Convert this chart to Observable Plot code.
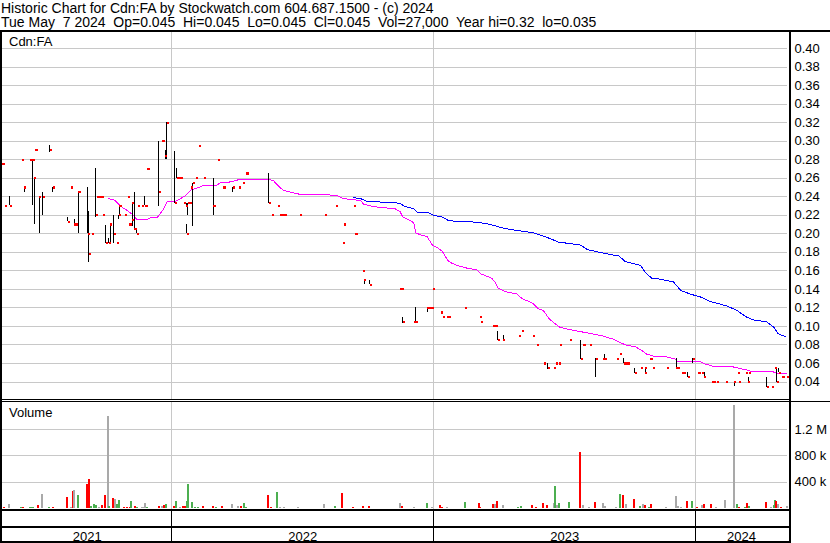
<!DOCTYPE html>
<html><head><meta charset="utf-8">
<script src="https://cdn.jsdelivr.net/npm/d3@7"></script>
<script src="https://cdn.jsdelivr.net/npm/@observablehq/plot@0.6"></script>
<style>
html,body{margin:0;padding:0;background:#fff;}
#root{position:relative;width:830px;height:543px;overflow:hidden;font-family:"Liberation Sans",Arial,sans-serif;color:#000;background:#fff;}
.ln{position:absolute;background:#000;}
.hdr{position:absolute;left:1px;font-size:14px;white-space:pre;line-height:14px;}
.lbl{position:absolute;left:9px;font-size:13px;line-height:13px;white-space:pre;}
.panel{position:absolute;left:0;}
.panel svg{display:block;}
</style></head><body><div id="root"></div>
<script>
// ---------- header texts ----------
const titleLine = "Historic Chart for Cdn:FA by Stockwatch.com 604.687.1500 - (c) 2024";
const infoLine = "Tue May  7 2024  Op=0.045  Hi=0.045  Lo=0.045  Cl=0.045  Vol=27,000  Year hi=0.32  lo=0.035";
const symbolLabel = "Cdn:FA";
const volumeLabel = "Volume";

// ---------- axes ----------
const startDate = "2021-05-10";          // first day on the chart
const lastDayOffset = 1094;              // calendar days shown
const yearLabels = [2021, 2022, 2023, 2024];
const priceTicks = [0.04,0.06,0.08,0.10,0.12,0.14,0.16,0.18,0.20,0.22,0.24,0.26,0.28,0.30,0.32,0.34,0.36,0.38,0.40];
const volumeTicks = [400000, 800000, 1200000];

// ---------- daily price bars (calendar-day offset from startDate) ----------
const priceDays = [0,4,10,27,30,39,40,42,44,46,51,56,66,70,91,96,100,102,106,119,120,125,130,132,135,138,140,144,148,150,155,159,160,162,163,171,175,177,180,181,184,187,189,195,198,200,202,218,222,223,227,229,240,243,245,248,253,256,257,258,261,263,265,270,274,281,294,300,308,321,330,335,340,371,376,384,387,390,393,414,450,465,475,476,490,492,502,504,512,554,557,558,573,574,576,592,595,598,600,611,614,619,622,645,665,667,684,687,690,698,720,724,739,745,755,760,769,771,775,777,791,806,809,811,819,827,837,839,840,856,861,866,868,871,881,890,895,896,903,906,926,939,940,942,947,949,955,962,970,975,978,989,992,996,1008,1020,1025,1027,1036,1039,1040,1065,1072,1077,1079,1082,1087,1093];
const priceHigh = [.275,.23,.24,.28,.25,.28,.28,.28,.26,.29,.24,.245,.295,.25,.218,.25,.215,.21,.245,.25,.224,.20,.27,.24,.24,.24,.22,.209,.195,.21,.22,.19,.19,.22,.23,.22,.24,.21,.215,.233,.245,.205,.23,.23,.24,.23,.27,.30,.30,.30,.29,.32,.289,.27,.26,.26,.233,.233,.21,.233,.233,.25,.254,.26,.295,.26,.26,.28,.25,.25,.25,.255,.265,.265,.22,.23,.22,.22,.22,.22,.22,.23,.19,.21,.23,.20,.16,.15,.15,.14,.14,.11,.105,.105,.12,.12,.12,.12,.14,.115,.11,.11,.11,.12,.11,.105,.10,.10,.095,.09,.09,.095,.09,.08,.06,.06,.055,.06,.06,.08,.085,.085,.08,.08,.08,.065,.065,.07,.065,.065,.07,.065,.06,.06,.055,.055,.055,.055,.065,.055,.055,.065,.06,.055,.05,.05,.05,.0655,.05,.05,.05,.04,.04,.04,.04,.04,.05,.04,.05,.045,.05,.045,.035,.055,.055,.055,.045,.045];
const priceLow = [.275,.23,.23,.28,.245,.28,.28,.23,.21,.29,.20,.22,.288,.245,.213,.25,.208,.21,.20,.20,.169,.20,.218,.24,.24,.24,.22,.189,.19,.19,.19,.19,.19,.215,.22,.22,.24,.21,.215,.208,.205,.20,.23,.23,.23,.23,.27,.229,.30,.30,.28,.28,.233,.26,.26,.26,.233,.23,.20,.22,.233,.25,.208,.26,.295,.26,.22,.28,.25,.245,.25,.255,.265,.233,.22,.23,.22,.22,.22,.22,.22,.23,.19,.21,.23,.20,.16,.145,.145,.14,.14,.103,.105,.105,.105,.115,.12,.12,.14,.115,.11,.11,.11,.12,.11,.105,.10,.10,.085,.085,.09,.095,.09,.08,.06,.054,.055,.06,.06,.08,.085,.064,.08,.08,.08,.045,.065,.065,.065,.065,.07,.06,.06,.06,.049,.055,.055,.05,.065,.055,.055,.055,.055,.055,.05,.05,.045,.06,.05,.05,.045,.04,.04,.04,.04,.035,.05,.04,.05,.04,.05,.034,.035,.055,.04,.05,.045,.045];
const priceClose = [.275,.23,.23,.28,.25,.28,.28,.28,.26,.29,.24,.24,.29,.25,.213,.25,.21,.21,.245,.20,.178,.20,.22,.24,.24,.24,.22,.19,.19,.21,.20,.19,.19,.22,.23,.22,.24,.21,.215,.233,.205,.20,.23,.23,.23,.23,.27,.245,.30,.30,.284,.32,.233,.26,.26,.26,.233,.23,.20,.233,.233,.25,.255,.26,.295,.26,.23,.28,.25,.25,.25,.255,.265,.233,.22,.23,.22,.22,.22,.22,.22,.23,.19,.21,.23,.20,.16,.15,.145,.14,.14,.105,.105,.105,.105,.12,.12,.12,.14,.115,.11,.11,.11,.12,.11,.105,.10,.10,.085,.085,.09,.095,.09,.08,.06,.055,.055,.06,.06,.08,.085,.065,.08,.08,.08,.065,.065,.065,.065,.065,.07,.06,.06,.06,.05,.055,.055,.05,.065,.055,.055,.055,.055,.055,.05,.05,.045,.065,.05,.05,.045,.04,.04,.04,.04,.04,.05,.04,.05,.04,.05,.035,.035,.055,.04,.05,.045,.045];

// ---------- moving averages ----------
const maShortDays = [148,157,164,174,181,188,199,206,216,223,230,241,248,255,262,270,280,297,304,318,332,371,378,384,391,401,411,433,454,467,475,485,499,503,513,520,534,547,554,558,566,573,576,582,592,594,599,606,613,620,624,633,647,661,666,682,687,691,703,717,724,738,747,754,761,768,777,791,815,835,852,868,882,891,898,907,926,937,940,972,977,990,1014,1037,1046,1074,1080,1092];
const maShortValues = [.238,.236,.230,.225,.221,.215,.215,.217,.218,.225,.235,.235,.238,.241,.247,.249,.252,.252,.255,.256,.259,.259,.257,.252,.247,.245,.243,.242,.242,.241,.238,.237,.236,.232,.230,.229,.228,.227,.224,.218,.215,.212,.201,.199,.197,.194,.188,.185,.181,.172,.169,.166,.163,.161,.157,.152,.147,.141,.137,.135,.130,.1255,.119,.117,.109,.104,.099,.0965,.093,.090,.086,.080,.078,.074,.070,.068,.067,.065,.0625,.0625,.060,.057,.057,.053,.051,.051,.049,.049];
const maLongDays = [489,499,508,534,554,559,573,578,594,601,613,622,652,675,689,698,722,740,756,775,805,815,838,859,868,889,896,905,917,935,945,958,972,986,1010,1024,1037,1047,1065,1075,1081,1091];
const maLongValues = [.239,.238,.235,.234,.233,.230,.227,.223,.2225,.220,.218,.214,.213,.211,.208,.206,.203,.201,.197,.191,.188,.183,.179,.176,.170,.166,.158,.152,.151,.148,.139,.135,.132,.127,.122,.117,.110,.107,.105,.099,.092,.089];

// ---------- volume ----------
const volumeDays = [2,9,26,29,38,40,43,50,55,65,70,90,95,98,100,105,118,120,124,128,131,134,139,143,147,149,154,157,160,163,169,174,177,179,184,188,194,196,198,201,218,222,225,228,239,242,248,252,255,257,259,264,268,273,280,294,298,306,320,328,333,337,340,370,374,383,387,392,412,448,464,473,489,502,511,554,557,573,592,598,610,613,620,644,664,666,684,686,689,698,718,723,738,744,753,759,768,770,773,776,790,805,809,818,826,837,839,855,860,865,869,880,889,893,896,901,904,925,938,939,941,945,954,961,968,975,978,987,995,1007,1020,1023,1026,1035,1038,1040,1064,1071,1075,1077,1078,1081,1085,1093];
const volumeValues = [20000,60000,20000,20000,20000,20000,20000,45000,210000,20000,20000,170000,20000,260000,275000,195000,360000,435000,25000,60000,45000,20000,45000,195000,1395000,25000,150000,130000,60000,120000,20000,20000,20000,105000,25000,20000,20000,20000,75000,20000,25000,25000,45000,60000,25000,110000,20000,25000,30000,110000,360000,90000,20000,20000,25000,25000,20000,25000,60000,25000,25000,75000,20000,195000,20000,240000,20000,20000,20000,60000,25000,225000,20000,25000,25000,80000,35000,20000,80000,20000,50000,20000,20000,95000,80000,20000,65000,65000,110000,50000,20000,35000,50000,20000,80000,50000,80000,335000,50000,80000,95000,845000,50000,20000,95000,80000,35000,20000,215000,200000,65000,140000,35000,65000,50000,20000,65000,20000,185000,125000,35000,20000,110000,110000,20000,50000,65000,65000,20000,125000,1560000,65000,20000,20000,80000,35000,95000,20000,50000,125000,110000,65000,20000,27000];
const volumeMove = ["down","flat","up","down","up","up","up","down","flat","up","down","down","flat","down","flat","up","down","down","up","up","up","flat","down","down","flat","up","down","flat","up","up","down","down","down","up","down","up","flat","flat","flat","up","down","flat","down","up","down","up","flat","down","down","up","up","up","up","up","down","down","up","down","flat","flat","down","up","up","down","down","up","flat","flat","flat","flat","up","down","down","down","down","flat","down","flat","up","flat","down","down","flat","up","down","down","down","flat","down","flat","up","up","down","down","down","down","flat","up","flat","up","up","down","flat","flat","down","flat","flat","flat","up","down","flat","down","up","flat","down","up","down","flat","flat","flat","flat","flat","down","up","down","flat","down","down","flat","flat","flat","up","down","up","down","up","down","flat","up","up","down","flat","down","flat"];

// ---------- colours ----------
const gridColor = "#c8c8c8";
const moveColors = {up: "#4caf50", down: "#ff0000", flat: "#a9a9a9"};

// ---------- build ----------
const t0 = new Date(startDate + "T00:00:00Z");
const toDate = d => d3.utcDay.offset(t0, d);
const xDomain = [t0, toDate(lastDayOffset)];
const yearStarts = yearLabels.slice(1).map(y => new Date(Date.UTC(y, 0, 1)));
const yearRows = yearLabels.map(y => {
  const s = Math.max(Date.UTC(y, 0, 1), +xDomain[0]);
  const e = Math.min(Date.UTC(y + 1, 0, 1), +xDomain[1]);
  return {label: String(y), mid: new Date((s + e) / 2)};
});
const priceRows = priceDays.map((d, i) => ({date: toDate(d), high: priceHigh[i], low: priceLow[i], close: priceClose[i]}));
const maShort = maShortDays.map((d, i) => ({date: toDate(d), v: maShortValues[i]}));
const maLong = maLongDays.map((d, i) => ({date: toDate(d), v: maLongValues[i]}));
const volRows = volumeDays.map((d, i) => ({date: toDate(d), vol: volumeValues[i], move: volumeMove[i]}));

const W = 830, ML = 2, MR = 43;
const baseStyle = {background: "transparent", fontFamily: "'Liberation Sans', Arial, sans-serif", fontSize: "13px", color: "#000", overflow: "visible"};

const pricePlot = Plot.plot({
  width: W, height: 367, marginLeft: ML, marginRight: MR, marginTop: 0, marginBottom: 0,
  style: baseStyle,
  x: {type: "utc", domain: xDomain, axis: null},
  y: {domain: [0.04, 0.40], range: [349.5, 16]},
  marks: [
    Plot.gridY(priceTicks, {stroke: gridColor, strokeOpacity: 1}),
    Plot.gridX(yearStarts, {stroke: gridColor, strokeOpacity: 1}),
    Plot.axisY({ticks: priceTicks, anchor: "right", label: null, tickSize: 0, tickPadding: 7, tickFormat: d => d.toFixed(2), fill: "#000"}),
    Plot.line(maLong, {x: "date", y: "v", stroke: "#0000ff", strokeWidth: 1}),
    Plot.line(maShort, {x: "date", y: "v", stroke: "#ff00ff", strokeWidth: 1}),
    Plot.ruleX(priceRows, {x: "date", y1: "low", y2: "high", stroke: "#000", strokeWidth: 1}),
    Plot.dot(priceRows, {x: "date", y: "close", symbol: "square", r: 1.2, fill: "#ff0000", stroke: null, dx: 1})
  ]
});

const volumePlot = Plot.plot({
  width: W, height: 107, marginLeft: ML, marginRight: MR, marginTop: 0, marginBottom: 0,
  style: baseStyle,
  x: {type: "utc", domain: xDomain, axis: null},
  y: {domain: [0, 1200000], range: [106, 27]},
  color: {domain: Object.keys(moveColors), range: Object.values(moveColors)},
  marks: [
    Plot.gridY(volumeTicks, {stroke: gridColor, strokeOpacity: 1}),
    Plot.gridX(yearStarts, {stroke: gridColor, strokeOpacity: 1}),
    Plot.axisY({ticks: volumeTicks, anchor: "right", label: null, tickSize: 0, tickPadding: 7, fill: "#000",
      tickFormat: v => v >= 1e6 ? (v / 1e6) + " M" : (v / 1e3) + " k"}),
    Plot.ruleX(volRows, {x: "date", y1: 0, y2: "vol", stroke: "move", strokeWidth: 2})
  ]
});

const stripPlot = Plot.plot({
  width: W, height: 30, marginLeft: ML, marginRight: MR, marginTop: 0, marginBottom: 0,
  style: baseStyle,
  x: {type: "utc", domain: xDomain, axis: null},
  marks: [
    Plot.ruleX(yearStarts, {stroke: "#000", strokeWidth: 1}),
    Plot.text(yearRows, {x: "mid", text: "label", frameAnchor: "bottom", lineAnchor: "bottom", dy: -1, fill: "#000"})
  ]
});

[pricePlot, volumePlot, stripPlot].forEach(s => s.setAttribute("shape-rendering", "crispEdges"));

const root = document.getElementById("root");
function addPanel(node, top) {
  const d = document.createElement("div");
  d.className = "panel"; d.style.top = top + "px";
  d.appendChild(node); root.appendChild(d);
}
function line(x, y, w, h) {
  const d = document.createElement("div");
  d.className = "ln";
  Object.assign(d.style, {left: x + "px", top: y + "px", width: w + "px", height: h + "px"});
  root.appendChild(d);
}
function text(cls, str, top) {
  const d = document.createElement("div");
  d.className = cls; d.style.top = top + "px"; d.textContent = str;
  root.appendChild(d);
}

text("hdr", titleLine + "\n" + infoLine, 1);
addPanel(pricePlot, 32);
addPanel(volumePlot, 402);
addPanel(stripPlot, 511);
text("lbl", symbolLabel, 35);
text("lbl", volumeLabel, 406);

line(0, 30, 830, 2);      // top rule
line(0, 30, 2, 513);      // left border
line(789, 30, 2, 513);    // right-axis separator
line(0, 399, 789, 1);     // price panel bottom
line(0, 401, 830, 1);     // volume panel top
line(0, 509, 789, 2);     // volume panel bottom
line(0, 526, 789, 2);     // year row top
line(0, 541, 789, 2);     // year row bottom
</script></body></html>
